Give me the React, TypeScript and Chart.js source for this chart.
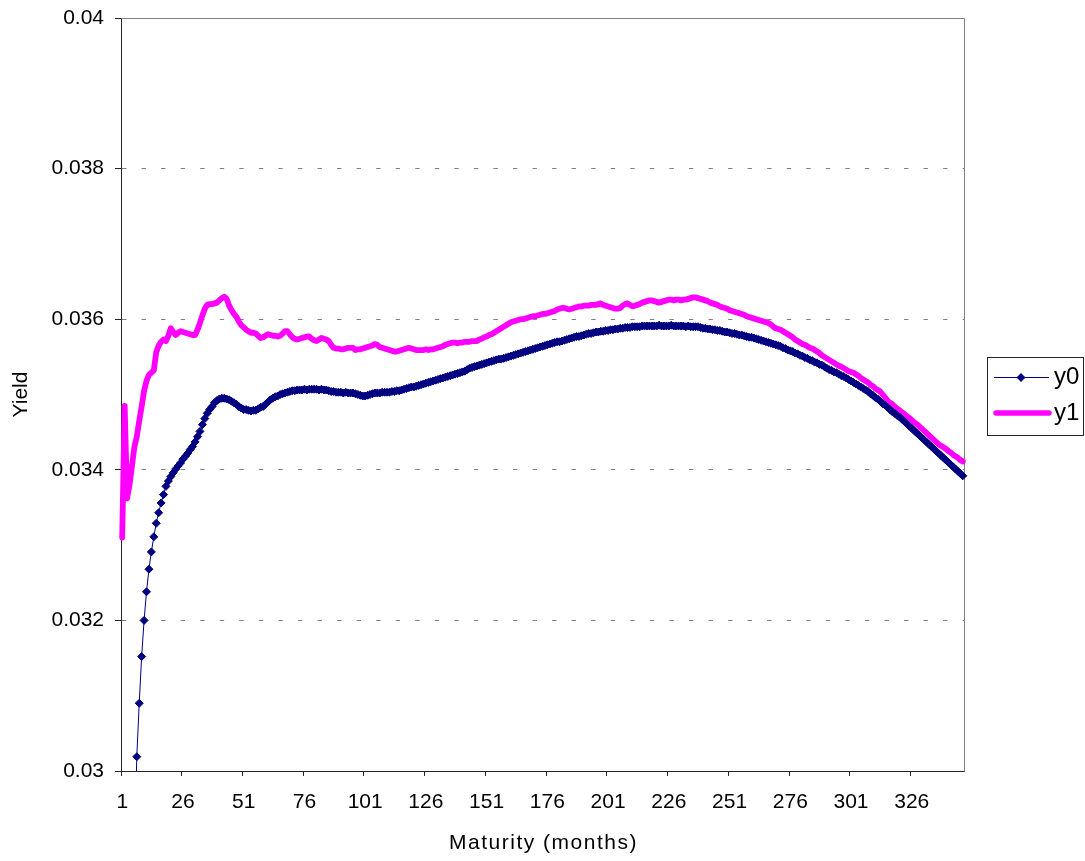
import { useEffect, useRef } from 'react';
import { Chart, registerables } from 'chart.js';

Chart.register(...registerables);

// Maturities in months, one category per month
const months: number[] = Array.from({ length: 347 }, (_, i) => i + 1);

// Labels shown under every 25th month
const xTickLabels: string[] = ['1', '26', '51', '76', '101', '126', '151', '176', '201', '226', '251', '276', '301', '326'];

// Yield axis ticks
const yTicks: number[] = [0.03, 0.032, 0.034, 0.036, 0.038, 0.04];

const xTitle = 'Maturity (months)';
const yTitle = 'Yield';

// y0 yield curve
const y0: number[] = [
  0.02050, 0.02360, 0.02560, 0.02700, 0.02800, 0.02880, 0.03019, 0.03090, 0.03152, 0.03200,
  0.03238, 0.03268, 0.03291, 0.03311, 0.03329, 0.03343, 0.03356, 0.03367, 0.03378, 0.03385,
  0.03391, 0.03396, 0.03401, 0.03405, 0.03409, 0.03414, 0.03418, 0.03422, 0.03427, 0.03431,
  0.03437, 0.03444, 0.03451, 0.03460, 0.03468, 0.03475, 0.03480, 0.03484, 0.03489, 0.03492,
  0.03494, 0.03495, 0.03495, 0.03494, 0.03493, 0.03491, 0.03489, 0.03487, 0.03484, 0.03482,
  0.03480, 0.03480, 0.03479, 0.03478, 0.03479, 0.03479, 0.03481, 0.03483, 0.03484, 0.03487,
  0.03490, 0.03493, 0.03495, 0.03497, 0.03498, 0.03500, 0.03501, 0.03502, 0.03503, 0.03504,
  0.03505, 0.03505, 0.03506, 0.03506, 0.03506, 0.03507, 0.03506, 0.03507, 0.03507, 0.03507,
  0.03507, 0.03506, 0.03507, 0.03506, 0.03506, 0.03505, 0.03504, 0.03504, 0.03503, 0.03503,
  0.03503, 0.03502, 0.03503, 0.03502, 0.03502, 0.03502, 0.03501, 0.03500, 0.03499, 0.03498,
  0.03498, 0.03499, 0.03500, 0.03501, 0.03502, 0.03502, 0.03502, 0.03503, 0.03503, 0.03503,
  0.03503, 0.03504, 0.03504, 0.03505, 0.03505, 0.03506, 0.03507, 0.03508, 0.03509, 0.03510,
  0.03510, 0.03511, 0.03512, 0.03513, 0.03514, 0.03515, 0.03516, 0.03517, 0.03518, 0.03519,
  0.03520, 0.03521, 0.03522, 0.03523, 0.03524, 0.03525, 0.03526, 0.03527, 0.03528, 0.03529,
  0.03530, 0.03531, 0.03533, 0.03535, 0.03536, 0.03537, 0.03538, 0.03539, 0.03540, 0.03541,
  0.03542, 0.03543, 0.03544, 0.03545, 0.03546, 0.03547, 0.03547, 0.03548, 0.03549, 0.03550,
  0.03551, 0.03552, 0.03553, 0.03554, 0.03555, 0.03556, 0.03557, 0.03558, 0.03559, 0.03560,
  0.03561, 0.03562, 0.03563, 0.03564, 0.03565, 0.03566, 0.03567, 0.03568, 0.03569, 0.03570,
  0.03570, 0.03571, 0.03572, 0.03573, 0.03574, 0.03575, 0.03576, 0.03577, 0.03577, 0.03578,
  0.03579, 0.03580, 0.03581, 0.03581, 0.03582, 0.03583, 0.03583, 0.03584, 0.03584, 0.03585,
  0.03585, 0.03586, 0.03586, 0.03587, 0.03587, 0.03588, 0.03588, 0.03589, 0.03589, 0.03589,
  0.03590, 0.03590, 0.03590, 0.03590, 0.03591, 0.03591, 0.03591, 0.03591, 0.03591, 0.03591,
  0.03591, 0.03592, 0.03591, 0.03591, 0.03591, 0.03591, 0.03592, 0.03591, 0.03591, 0.03591,
  0.03591, 0.03591, 0.03590, 0.03591, 0.03590, 0.03590, 0.03590, 0.03590, 0.03589, 0.03588,
  0.03588, 0.03587, 0.03587, 0.03586, 0.03586, 0.03585, 0.03585, 0.03584, 0.03583, 0.03583,
  0.03582, 0.03581, 0.03581, 0.03580, 0.03579, 0.03579, 0.03578, 0.03577, 0.03576, 0.03576,
  0.03575, 0.03574, 0.03573, 0.03572, 0.03571, 0.03570, 0.03569, 0.03568, 0.03567, 0.03566,
  0.03565, 0.03564, 0.03562, 0.03561, 0.03559, 0.03558, 0.03557, 0.03555, 0.03554, 0.03552,
  0.03551, 0.03549, 0.03548, 0.03546, 0.03545, 0.03543, 0.03542, 0.03540, 0.03539, 0.03537,
  0.03535, 0.03533, 0.03532, 0.03530, 0.03529, 0.03527, 0.03525, 0.03524, 0.03522, 0.03520,
  0.03518, 0.03516, 0.03514, 0.03512, 0.03510, 0.03508, 0.03506, 0.03504, 0.03501, 0.03499,
  0.03496, 0.03494, 0.03491, 0.03488, 0.03486, 0.03483, 0.03480, 0.03477, 0.03475, 0.03472,
  0.03470, 0.03467, 0.03464, 0.03461, 0.03458, 0.03455, 0.03452, 0.03449, 0.03446, 0.03443,
  0.03440, 0.03437, 0.03434, 0.03431, 0.03428, 0.03425, 0.03422, 0.03419, 0.03416, 0.03413,
  0.03410, 0.03407, 0.03404, 0.03401, 0.03398, 0.03395, 0.03392,
];

// y1 yield curve
const y1: number[] = [
  0.03310, 0.03485, 0.03362, 0.03380, 0.03405, 0.03430, 0.03444, 0.03465, 0.03484, 0.03505,
  0.03518, 0.03526, 0.03529, 0.03532, 0.03556, 0.03565, 0.03570, 0.03573, 0.03571, 0.03578,
  0.03588, 0.03583, 0.03579, 0.03582, 0.03584, 0.03583, 0.03582, 0.03581, 0.03580, 0.03579,
  0.03579, 0.03586, 0.03595, 0.03605, 0.03614, 0.03619, 0.03620, 0.03620, 0.03621, 0.03622,
  0.03625, 0.03628, 0.03630, 0.03627, 0.03618, 0.03612, 0.03607, 0.03603, 0.03597, 0.03592,
  0.03589, 0.03586, 0.03584, 0.03582, 0.03582, 0.03581, 0.03578, 0.03575, 0.03576, 0.03578,
  0.03580, 0.03579, 0.03578, 0.03578, 0.03577, 0.03578, 0.03581, 0.03584, 0.03584, 0.03580,
  0.03576, 0.03574, 0.03573, 0.03574, 0.03575, 0.03576, 0.03577, 0.03577, 0.03574, 0.03572,
  0.03571, 0.03573, 0.03575, 0.03574, 0.03573, 0.03571, 0.03566, 0.03562, 0.03561, 0.03561,
  0.03560, 0.03560, 0.03561, 0.03562, 0.03562, 0.03562, 0.03559, 0.03560, 0.03560, 0.03561,
  0.03562, 0.03563, 0.03564, 0.03565, 0.03567, 0.03566, 0.03563, 0.03562, 0.03561, 0.03560,
  0.03559, 0.03558, 0.03557, 0.03557, 0.03558, 0.03559, 0.03560, 0.03561, 0.03562, 0.03561,
  0.03560, 0.03559, 0.03559, 0.03559, 0.03559, 0.03560, 0.03559, 0.03560, 0.03560, 0.03561,
  0.03562, 0.03563, 0.03564, 0.03566, 0.03567, 0.03568, 0.03569, 0.03569, 0.03568, 0.03569,
  0.03569, 0.03570, 0.03570, 0.03570, 0.03571, 0.03571, 0.03571, 0.03573, 0.03574, 0.03576,
  0.03577, 0.03579, 0.03580, 0.03582, 0.03584, 0.03586, 0.03588, 0.03590, 0.03592, 0.03594,
  0.03596, 0.03597, 0.03598, 0.03599, 0.03600, 0.03600, 0.03601, 0.03602, 0.03603, 0.03604,
  0.03604, 0.03605, 0.03606, 0.03607, 0.03607, 0.03608, 0.03609, 0.03610, 0.03611, 0.03613,
  0.03614, 0.03615, 0.03615, 0.03614, 0.03613, 0.03614, 0.03615, 0.03616, 0.03617, 0.03617,
  0.03618, 0.03618, 0.03618, 0.03619, 0.03619, 0.03619, 0.03620, 0.03621, 0.03619, 0.03618,
  0.03617, 0.03616, 0.03615, 0.03614, 0.03614, 0.03615, 0.03618, 0.03620, 0.03621, 0.03619,
  0.03617, 0.03618, 0.03619, 0.03620, 0.03622, 0.03623, 0.03624, 0.03625, 0.03625, 0.03624,
  0.03623, 0.03622, 0.03623, 0.03624, 0.03625, 0.03626, 0.03626, 0.03625, 0.03626, 0.03626,
  0.03625, 0.03626, 0.03626, 0.03627, 0.03628, 0.03629, 0.03629, 0.03628, 0.03627, 0.03626,
  0.03625, 0.03624, 0.03622, 0.03621, 0.03620, 0.03619, 0.03617, 0.03616, 0.03615, 0.03614,
  0.03612, 0.03611, 0.03610, 0.03609, 0.03608, 0.03607, 0.03606, 0.03604, 0.03603, 0.03602,
  0.03601, 0.03600, 0.03599, 0.03598, 0.03597, 0.03596, 0.03595, 0.03593, 0.03590, 0.03588,
  0.03587, 0.03586, 0.03584, 0.03582, 0.03580, 0.03578, 0.03576, 0.03573, 0.03571, 0.03569,
  0.03567, 0.03566, 0.03564, 0.03562, 0.03561, 0.03559, 0.03557, 0.03555, 0.03552, 0.03550,
  0.03548, 0.03546, 0.03544, 0.03542, 0.03540, 0.03538, 0.03537, 0.03535, 0.03533, 0.03531,
  0.03530, 0.03529, 0.03527, 0.03525, 0.03522, 0.03520, 0.03518, 0.03516, 0.03513, 0.03511,
  0.03508, 0.03506, 0.03504, 0.03500, 0.03496, 0.03492, 0.03489, 0.03487, 0.03484, 0.03481,
  0.03479, 0.03476, 0.03474, 0.03471, 0.03469, 0.03466, 0.03463, 0.03461, 0.03458, 0.03455,
  0.03452, 0.03449, 0.03446, 0.03443, 0.03440, 0.03437, 0.03434, 0.03432, 0.03430, 0.03428,
  0.03425, 0.03423, 0.03420, 0.03418, 0.03416, 0.03413, 0.03411,
];

const FONT = 'Arial, "Liberation Sans", Helvetica, sans-serif';
const NAVY = '#000080';
const MAGENTA = '#ff00ff';
const AXIS = '#262626';
const GRID = '#808080';

// Gray frame on the top and right side of the plot area
const plotFrame = {
  id: 'plotFrame',
  beforeDatasetsDraw(chart: any) {
    const { ctx, chartArea: a } = chart;
    ctx.save();
    ctx.strokeStyle = GRID;
    ctx.lineWidth = 1;
    ctx.beginPath();
    ctx.moveTo(Math.round(a.left) + 0.5, Math.round(a.top) + 0.5);
    ctx.lineTo(Math.round(a.right) + 0.5, Math.round(a.top) + 0.5);
    ctx.lineTo(Math.round(a.right) + 0.5, Math.round(a.bottom) + 0.5);
    ctx.stroke();
    ctx.restore();
  },
};

// Category axis title, set with slightly open letter spacing
const xAxisTitle = {
  id: 'xAxisTitle',
  afterDraw(chart: any) {
    const { ctx, chartArea: a } = chart;
    ctx.save();
    ctx.font = `21px ${FONT}`;
    (ctx as any).letterSpacing = '1.5px';
    ctx.fillStyle = '#000';
    ctx.textAlign = 'center';
    ctx.textBaseline = 'middle';
    ctx.fillText(xTitle, (a.left + a.right) / 2 + 1, 843);
    ctx.restore();
  },
};

// Boxed legend to the right of the plot
const boxLegend = {
  id: 'boxLegend',
  afterDraw(chart: any) {
    const { ctx } = chart;
    const left = 987;
    const top = 357;
    ctx.save();
    ctx.strokeStyle = AXIS;
    ctx.lineWidth = 1;
    ctx.strokeRect(left + 0.5, top + 0.5, 96, 78);

    const row0 = top + 20.5;
    const row1 = top + 56;
    ctx.strokeStyle = NAVY;
    ctx.lineWidth = 1;
    ctx.beginPath();
    ctx.moveTo(left + 7, row0);
    ctx.lineTo(left + 62, row0);
    ctx.stroke();
    ctx.fillStyle = NAVY;
    ctx.beginPath();
    const cx = left + 34;
    const r = 4.5;
    ctx.moveTo(cx, row0 - r);
    ctx.lineTo(cx + r, row0);
    ctx.lineTo(cx, row0 + r);
    ctx.lineTo(cx - r, row0);
    ctx.closePath();
    ctx.fill();

    ctx.strokeStyle = MAGENTA;
    ctx.lineWidth = 5.5;
    ctx.lineCap = 'round';
    ctx.beginPath();
    ctx.moveTo(left + 9, row1);
    ctx.lineTo(left + 62, row1);
    ctx.stroke();

    ctx.fillStyle = '#000';
    ctx.font = `24px ${FONT}`;
    ctx.textBaseline = 'middle';
    ctx.textAlign = 'left';
    ctx.fillText(chart.data.datasets[0].label, left + 67, row0);
    ctx.fillText(chart.data.datasets[1].label, left + 67, row1);
    ctx.restore();
  },
};

export default function App() {
  const canvasRef = useRef<HTMLCanvasElement | null>(null);

  useEffect(() => {
    const canvas = canvasRef.current;
    if (!canvas) return;
    const isEdge = (v: number) => Math.abs(v - 0.04) < 1e-9 || Math.abs(v - 0.03) < 1e-9;

    const chart = new Chart(canvas, {
      type: 'line',
      data: {
        labels: months,
        datasets: [
          {
            label: 'y0',
            data: y0,
            borderColor: NAVY,
            backgroundColor: NAVY,
            borderWidth: 1,
            pointStyle: 'rectRot',
            pointRadius: 4,
            pointBorderWidth: 1,
            pointBackgroundColor: NAVY,
            pointBorderColor: NAVY,
            tension: 0,
          },
          {
            label: 'y1',
            data: y1,
            borderColor: MAGENTA,
            backgroundColor: MAGENTA,
            borderWidth: 5.8,
            borderJoinStyle: 'round',
            borderCapStyle: 'round',
            pointRadius: 0,
            tension: 0,
          },
        ],
      },
      options: {
        responsive: false,
        animation: false,
        devicePixelRatio: 1,
        events: [],
        layout: { padding: { top: 18, right: 121, bottom: 0, left: 0 } },
        plugins: {
          legend: { display: false },
          tooltip: { enabled: false },
        },
        scales: {
          x: {
            type: 'category',
            offset: true,
            afterFit: (scale: any) => {
              scale.height = 90;
              scale.paddingLeft = 0;
              scale.paddingRight = 0;
            },
            grid: {
              display: true,
              offset: true,
              drawOnChartArea: false,
              drawTicks: true,
              tickLength: 5,
              tickWidth: 1,
              color: AXIS,
              tickColor: (ctx: any) => (typeof ctx.index === 'number' && ctx.index % 25 === 0 ? AXIS : 'rgba(0,0,0,0)'),
            },
            border: { display: true, color: AXIS, width: 1 },
            ticks: {
              autoSkip: false,
              maxRotation: 0,
              minRotation: 0,
              padding: 14,
              color: '#000',
              font: { family: FONT, size: 21 },
              callback: (_v: any, idx: number) => (idx % 25 === 0 ? xTickLabels[idx / 25] : ''),
            },
            title: { display: false },
          },
          y: {
            type: 'linear',
            min: 0.03,
            max: 0.04,
            afterFit: (scale: any) => {
              scale.width = 121;
              scale.paddingTop = 0;
              scale.paddingBottom = 0;
            },
            afterBuildTicks: (scale: any) => {
              scale.ticks = yTicks.map((v) => ({ value: v }));
            },
            grid: {
              display: true,
              drawTicks: true,
              tickLength: 6,
              lineWidth: 1,
              color: (ctx: any) => (ctx.tick && isEdge(ctx.tick.value) ? 'rgba(0,0,0,0)' : GRID),
              tickColor: AXIS,
            },
            border: { display: true, color: AXIS, width: 1, dash: [4.4, 15.15] },
            ticks: {
              padding: 11,
              color: '#000',
              font: { family: FONT, size: 21 },
              callback: (v: any) => String(Number(Number(v).toFixed(3))),
            },
            title: {
              display: true,
              text: yTitle,
              color: '#000',
              font: { family: FONT, size: 21 },
              padding: { top: 9, bottom: 0 },
            },
          },
        },
      },
      plugins: [plotFrame, xAxisTitle, boxLegend],
    } as any);

    return () => chart.destroy();
  }, []);

  return (
    <div style={{ position: 'absolute', left: 0, top: 0, width: 1085, height: 861, background: '#fff' }}>
      <canvas ref={canvasRef} width={1085} height={861} style={{ display: 'block' }} />
    </div>
  );
}
